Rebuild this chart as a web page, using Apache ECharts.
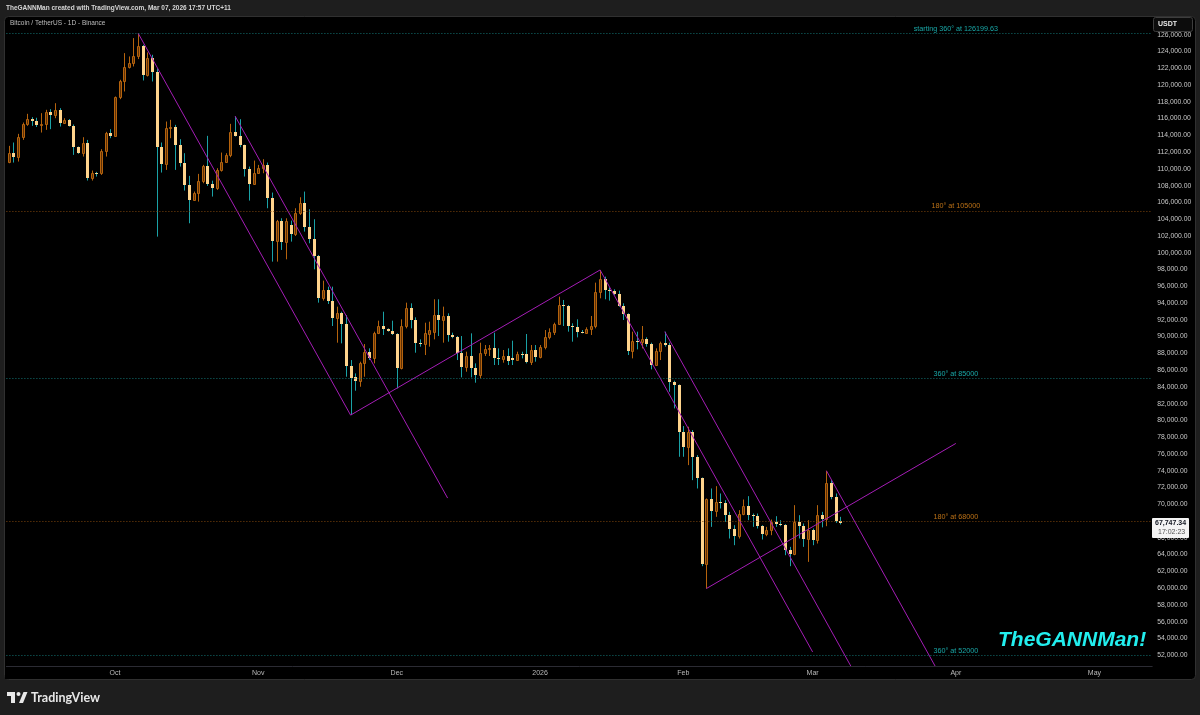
<!DOCTYPE html>
<html><head><meta charset="utf-8">
<script src="https://cdn.jsdelivr.net/npm/echarts@6/dist/echarts.min.js"></script>
<style>html,body{margin:0;padding:0;background:#1e1e1e}#c{width:1200px;height:715px}</style>
</head><body><div id="c"></div>
<script>
// ---------- DATA ----------
const candleStart = '2025-09-08';
const axisStart = '2025-09-08';
const axisEnd = '2026-05-13';

// daily candles: [open, high, low, close]
const sep2025 = [
[110880,112750,110680,111954],[111954,113148,110760,111476],[111476,114183,110880,113864],
[113864,115535,113466,115376],[115376,116570,115137,115933],[115933,116172,115137,115774],
[115774,116100,115000,115200],[115200,116650,114340,115300],[115300,117050,114660,116730],
[116730,117127,114740,116410],[116410,117840,116050,116970],[116970,117246,115057,115535],
[115535,116050,115400,115853],[115853,115950,115050,115137],[115137,115300,111675,112591],
[112591,112670,111800,111954],[111954,113784,111476,113148],[113148,113460,108612,108890],
[108890,109806,108612,109567],[109567,109650,109090,109488],[109488,112352,109289,112193],
[112193,114421,111476,114262],[114262,114740,113665,113944]
];
const oct2025 = [
[113944,118640,113850,118560],[118560,120630,118320,120430],[120430,123812,119236,122140],
[122140,123413,121980,122620],[122620,125602,122220,123414],[123414,126199.63,123100,124607],
[124607,124800,120549,121225],[121225,123892,121026,123215],[123215,123613,120430,121504],
[121504,122000,101925,112670],[112670,113148,109567,110560],[110560,115654,109886,114860],
[114860,115853,113665,115057],[115057,115256,109886,112870],[112870,113546,110282,110680],
[110680,111875,107419,108095],[108095,109170,103519,106304],[106304,107300,106200,107180],
[107180,109408,106105,108612],[108612,110481,108294,110362],[110362,113944,107976,108214],
[108214,108600,106702,107697],[107697,110083,107498,109886],[109886,111953,109680,110879],
[110879,111875,110760,111675],[111675,115376,111396,114461],[114461,116252,113864,113944],
[113944,115933,112591,112870],[112870,112900,109090,109965],[109965,110282,106224,108214],
[108214,110998,108095,109567]
];
const nov2025 = [
[109567,110480,109400,110163],[110163,111158,109487,110481],[110481,110760,105309,106502],
[106502,107180,98943,101449],[101449,103917,98943,103837],[103837,104115,100336,101330],
[101330,104115,99221,103837],[103320,103837,101330,102245],[102245,105309,102000,104712],
[104712,106622,104513,105906],[105906,107299,102524,103041],[103041,105190,101131,101608],
[101608,103996,98028,99619],[99619,99738,94049,94566],[94566,96673,94300,95561],
[95561,95959,93890,94287],[94287,95959,91263,92178],[92178,93572,89274,92855],
[92855,92973,89194,91502],[91502,92576,85215,86489],[86489,87205,80640,85016],
[85135,85613,83545,84738],[84738,87006,84021,86807],[86807,89114,85215,88204],
[88204,88600,87205,87404],[87404,90587,86807,90388],[90388,91900,90300,91263],
[91263,92973,90189,90866],[90866,90985,90587,90707],[90707,91900,90189,90309]
];
const dec2025 = [
[90309,90400,83823,86210],[86210,92059,86090,91263],[91263,94049,90985,93373],
[93373,93970,90985,91980],[91980,92300,88080,89274],[89274,89671,88800,89114],
[89114,91661,87802,90388],[90300,91783,88800,90800],[90590,94449,89674,92579],
[92579,94449,90071,91982],[91982,93574,89276,92460],[92460,92778,89396,90192],
[90192,90470,89800,89913],[89913,90071,87207,88083],[88083,90071,85138,86332],
[86332,88203,85815,87685],[87685,90390,85138,86213],[86213,86809,84502,85417],
[85417,89276,85019,88083],[88083,88998,87685,88481],[88481,88998,87685,88680],
[88680,90470,86611,87406],[87406,88600,86611,87287],[87287,88402,86889,87685],
[87685,88600,86611,87128],[87406,89515,86611,87207],[87207,88202,87100,87924],
[87924,88202,87406,87765],[87924,90311,86809,87008],[87008,88998,86611,88402],
[88402,88998,87008,87526]
];
const jan2026 = [
[87526,88998,87406,88800],[88800,90788,88481,89913],[89913,90987,89674,90590],
[90590,91664,90192,91504],[91504,94767,91385,93773],[93773,94370,91266,93654],
[93654,93773,90590,91266],[91266,91585,89396,91107],[91107,92062,89913,90590],
[90590,90788,90390,90470],[90470,91107,90390,90868],[90868,92460,90192,91266],
[91266,96439,90987,95360],[95360,97950,94568,96836],[96836,97155,94449,95563],
[95563,95881,94290,95483],[95483,95642,94967,95085],[95085,95483,93574,93654],
[93654,93972,91982,92698],[92698,92778,87804,88322],[88322,90589,87406,89515],
[89515,90589,88481,89396],[89396,91266,88600,89674],[89674,89913,88799,89117],
[89117,89276,86093,86611],[86611,88600,86491,88322],[88322,89396,87207,89196],
[89196,90590,88799,88998],[88998,89276,83427,84621],[84621,84740,81438,84223],
[84223,84300,75669,78652]
];
const feb2026 = [
[78652,79331,75669,76862],[76862,79250,74673,78652],[78652,78851,72882,75669],
[75669,75868,71887,73082],[73082,73201,62618,62936],[62936,70700,59950,70574],
[70574,71888,67312,69222],[69222,72166,68505,70295],[70295,71291,69500,70097],
[70097,70495,67909,68704],[68704,69102,65920,67113],[67113,67511,65124,66198],
[66198,69301,65920,68903],[68903,70574,68700,69779],[69779,70972,68107,68704],
[68704,68900,67312,68624],[68624,68900,67113,67392],[67392,67511,65800,66437],
[66437,67312,66200,66994],[66994,68186,66317,67909],[67909,68584,67312,67710],
[67710,68107,67392,67511],[67511,67630,63929,64607],[64607,64925,62618,64050],
[64050,69899,63929,67909],[67909,68704,65920,67392],[67392,67710,64925,65920],
[65920,68107,63133,66914]
];
const mar2026 = [
[66914,67113,65124,65721],[65721,69899,65323,68704],[68704,69102,67250,68306],
[68306,73996,67391,72564],[72564,72882,70600,70813],[70813,71291,67789,68027],
[68027,68505,67600,67747.34]
];

const tickDates  = ['2025-10-01','2025-11-01','2025-12-01','2026-01-01','2026-02-01','2026-03-01','2026-04-01','2026-05-01'];
const tickLabels = ['Oct','Nov','Dec','2026','Feb','Mar','Apr','May'];
const yMin = 50000, yMax = 128000, yStep = 2000;

const levelValues = [126199.63, 105000, 85000, 68000, 52000];
const levelTexts  = ['starting 360° at 126199.63','180° at 105000','360° at 85000','180° at 68000','360° at 52000'];
const levelLabelDate = '2026-04-01';

// trend lines: [startDate, startPrice, endDate, endPrice]
const trendLines = [
['2025-10-06',126199.63,'2025-11-21',80640],
['2025-10-27',116300,'2025-12-12',70741],
['2025-11-21',80640,'2026-01-14',97950],
['2026-01-14',97950,'2026-03-01',52391],
['2026-01-28',90590,'2026-03-15',45031],
['2026-02-06',59950,'2026-04-01',77260],
['2026-03-04',73996,'2026-04-19',28437]
];
const lastPrice = 67747.34;
const lastTimer = '17:02:23';

// ---------- BUILD ----------
const ohlc = [].concat(sep2025, oct2025, nov2025, dec2025, jan2026, feb2026, mar2026);
function iso(d){return d.toISOString().slice(0,10);}
function dayList(a,b){const out=[];let d=new Date(a+'T00:00:00Z');const e=new Date(b+'T00:00:00Z');while(d<=e){out.push(iso(d));d=new Date(d.getTime()+86400000);}return out;}
const dates = dayList(axisStart, axisEnd);
const idx = s => dates.indexOf(s);
const c0 = idx(candleStart);
const candleData = ohlc.map((r,i)=>[c0+i, r[0], r[1], r[2], r[3]]);

const UP_BORDER='#b5630d', UP_FILL='#5e3106', DOWN_FILL='#ffd48c', DOWN_WICK='#1aa2a6';
const MAGENTA='#a51db6';
const TEAL_LINE='#127272', TEAL_TEXT='#1fd0d0', ORANGE_LINE='#7e450c', ORANGE_TEXT='#e88c1c';
const FONT='Liberation Sans';
const fmt = v => v.toLocaleString('en-US',{minimumFractionDigits:2, maximumFractionDigits:2});

function renderCandle(params, api){
  const i=api.value(0), o=api.value(1), h=api.value(2), l=api.value(3), c=api.value(4);
  const pO=api.coord([i,o]), pC=api.coord([i,c]), pH=api.coord([i,h]), pL=api.coord([i,l]);
  const cx=Math.round(pO[0]);
  const up=c>=o;
  const top=Math.round(Math.min(pO[1],pC[1])), bot=Math.round(Math.max(pO[1],pC[1]));
  const children=[{type:'line',shape:{x1:cx+0.5,y1:pH[1],x2:cx+0.5,y2:pL[1]},style:{stroke:up?UP_BORDER:DOWN_WICK,lineWidth:1}}];
  if(up){
    children.push({type:'rect',shape:{x:cx-0.5,y:top+0.5,width:2,height:Math.max(1,bot-top)},style:{fill:UP_FILL,stroke:UP_BORDER,lineWidth:1}});
  } else {
    children.push({type:'rect',shape:{x:cx-1,y:top,width:3,height:Math.max(1,bot-top)},style:{fill:DOWN_FILL}});
  }
  return {type:'group',children};
}

const series = [];
series.push({type:'custom', name:'BTCUSDT', renderItem:renderCandle, data:candleData, encode:{x:0,y:[1,2,3,4]}, clip:true, z:2, silent:true});
trendLines.forEach((t,k)=>{
  const s = {type:'line', data:[[idx(t[0]),t[1]],[idx(t[2]),t[3]]], symbol:'none', silent:true, z:3, clip:true,
    lineStyle:{color:MAGENTA,width:1}};
  if(k===0){
    s.markLine = {symbol:['none','none'], silent:true, label:{show:false}, animation:false,
      data: levelValues.map((v,j)=>({yAxis:v, lineStyle:{color: levelTexts[j].indexOf('360')>=0?TEAL_LINE:ORANGE_LINE, type:[1,2], width:1}}))};
  }
  series.push(s);
});
series.push({type:'scatter', symbolSize:0, silent:true, z:4,
  data: levelValues.map((v,j)=>({value:[idx(levelLabelDate), v],
    label:{show:true, position:'top', distance:1, formatter:levelTexts[j], fontSize:7.2, fontFamily:FONT,
      color: levelTexts[j].indexOf('360')>=0?TEAL_TEXT:ORANGE_TEXT}}))});

const chart = echarts.init(document.getElementById('c'), null, {renderer:'canvas'});
const baseGraphic = [
    {type:'rect', z:-10, shape:{x:4.5,y:16.5,width:1191,height:663,r:4}, style:{fill:'#000',stroke:'#303030',lineWidth:1}},
    {type:'rect', z:50, shape:{x:5,y:667,width:1147,height:12}, style:{fill:'#000'}},
    {type:'text', z:70, style:{x:6,y:8,text:'TheGANNMan created with TradingView.com, Mar 07, 2026 17:57 UTC+11',fill:'#d6d6d6',fontSize:6.5,fontWeight:'bold',fontFamily:FONT,textVerticalAlign:'middle'}},
    {type:'text', z:70, style:{x:10,y:23.5,text:'Bitcoin / TetherUS - 1D - Binance',fill:'#bdbdbd',fontSize:6.5,fontFamily:FONT,textVerticalAlign:'middle'}},
    {type:'rect', z:70, shape:{x:1153.5,y:17.5,width:39,height:14,r:2}, style:{fill:'#0c0c0c',stroke:'#3d3d3d',lineWidth:1}},
    {type:'text', z:71, style:{x:1158,y:24.5,text:'USDT',fill:'#e8e8e8',fontSize:7,fontWeight:'bold',fontFamily:FONT,textVerticalAlign:'middle'}},
    {type:'text', z:70, style:{x:998,y:640,text:'TheGANNMan!',fill:'#22eeee',fontSize:21,fontWeight:'bold',fontStyle:'italic',fontFamily:FONT,textVerticalAlign:'middle'}},
    {type:'rect', z:70, shape:{x:7,y:692,width:8,height:4}, style:{fill:'#e8e8e8'}},
    {type:'rect', z:70, shape:{x:11,y:692,width:4,height:11}, style:{fill:'#e8e8e8'}},
    {type:'circle', z:70, shape:{cx:18.5,cy:694,r:2}, style:{fill:'#e8e8e8'}},
    {type:'polygon', z:70, shape:{points:[[19,703],[23.5,692],[27.5,692],[23,703]]}, style:{fill:'#e8e8e8'}},
    {type:'text', z:70, style:{x:31,y:698,text:'TradingView',fill:'#e8e8e8',fontSize:12.5,fontWeight:'bold',fontFamily:'Lato',textVerticalAlign:'middle'}}
];
chart.setOption({
  animation:false,
  backgroundColor:'#1e1e1e',
  grid:{left:6.4, right:47.8, top:18, bottom:43, containLabel:false},
  xAxis:{type:'category', data:dates, boundaryGap:true, offset:-6, z:60,
    axisLine:{show:true, lineStyle:{color:'#2b2b33', width:1}},
    axisTick:{show:false},
    axisLabel:{color:'#b9b9b9', fontSize:7, fontFamily:FONT, margin:4,
      interval:(i,v)=>tickDates.indexOf(v)>=0,
      formatter:v=>{const k=tickDates.indexOf(v);return k>=0?tickLabels[k]:'';}},
    splitLine:{show:false}},
  yAxis:{type:'value', position:'right', min:yMin, max:yMax, interval:yStep, scale:false,
    axisLine:{show:false}, axisTick:{show:false}, splitLine:{show:false},
    axisLabel:{color:'#c8c8c8', fontSize:6.8, fontFamily:FONT, margin:5,
      formatter:v=>(v===yMin||v===yMax)?'':fmt(v)}},
  series,
  graphic: baseGraphic
});
// last-price tag placed through the y scale
const py = chart.convertToPixel({yAxisIndex:0}, lastPrice);
chart.setOption({graphic: baseGraphic.concat([
  {type:'rect', z:80, shape:{x:1152,y:Math.round(py)-5,width:37,height:20,r:1}, style:{fill:'#f4f4f4'}},
  {type:'text', z:81, style:{x:1155,y:Math.round(py)+0.5,text:fmt(lastPrice),fill:'#131722',fontSize:7,fontWeight:'bold',fontFamily:FONT,textVerticalAlign:'middle'}},
  {type:'text', z:81, style:{x:1158,y:Math.round(py)+9.5,text:lastTimer,fill:'#555',fontSize:7,fontFamily:FONT,textVerticalAlign:'middle'}}
])});
</script></body></html>
